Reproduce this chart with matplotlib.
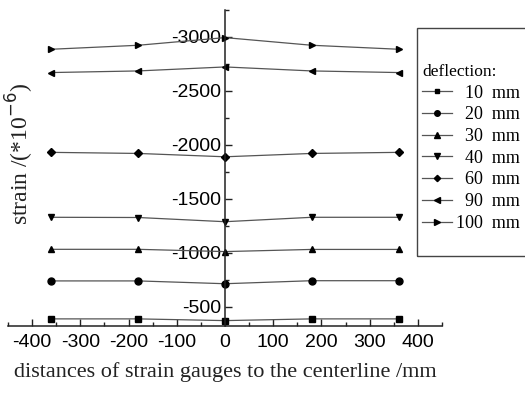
import matplotlib
matplotlib.use("Agg")
import matplotlib.pyplot as plt
from matplotlib.ticker import MultipleLocator, FixedLocator
from matplotlib.patches import Rectangle

positions = [-360, -180, 0, 180, 360]
labels = ["\u200710  mm", "\u200720  mm", "\u200730  mm", "\u200740  mm",
          "\u200760  mm", "\u200790  mm", "100  mm"]
markers = ["s", "o", "^", "v", "D", "<", ">"]
s10 = [-386, -386, -370, -386, -386]
s20 = [-738, -738, -712, -740, -740]
s30 = [-1031, -1031, -1010, -1030, -1030]
s40 = [-1328, -1326, -1287, -1328, -1328]
s60 = [-1930, -1920, -1889, -1920, -1930]
s90 = [-2670, -2685, -2722, -2685, -2670]
s100 = [-2886, -2923, -2994, -2923, -2886]
series = [s10, s20, s30, s40, s60, s90, s100]
yticks = [-500, -1000, -1500, -2000, -2500, -3000]
xticks = [-400, -300, -200, -100, 0, 100, 200, 300, 400]

W, H = 525, 393
fig = plt.figure(figsize=(5.25, 3.93), dpi=100)
ax = fig.add_axes([8/W, 1-326/H, 434/W, 316/H])

msizes = [4, 5, 5, 5, 4, 5, 5]
handles = []
for vals, m, lab, ms in zip(series, markers, labels, msizes):
    h, = ax.plot(positions, vals, color="#555555", lw=0.9, marker=m, ms=ms,
                 mfc="black", mec="black", label=lab)
    handles.append(h)

ax.set_xlim(-450, 450)
ax.set_ylim(-320, -3250)

ax.spines["top"].set_visible(False)
ax.spines["right"].set_visible(False)
ax.spines["left"].set_position(("data", 0))
for sp in ("left", "bottom"):
    ax.spines[sp].set_linewidth(1.1)
    ax.spines[sp].set_color("#222222")

ax.xaxis.set_major_locator(FixedLocator(xticks))
ax.xaxis.set_minor_locator(MultipleLocator(50))
ax.yaxis.set_major_locator(FixedLocator(yticks))
ax.yaxis.set_minor_locator(MultipleLocator(250))
ax.set_xticklabels([str(v) for v in xticks])
ax.set_yticklabels([str(v) for v in yticks])

ax.tick_params(axis="both", which="major", direction="in", length=5, width=1.0,
               color="#222222", labelsize=14, labelfontfamily="Liberation Sans")
ax.tick_params(axis="both", which="minor", direction="in", length=3, width=1.0,
               color="#222222")
ax.tick_params(axis="x", which="major", pad=6)
ax.tick_params(axis="y", which="major", pad=3)

fig.text(20/W, 1-154/H, "strain /(*10$^{-6}$)", rotation=90, ha="center",
         va="center", fontsize=17, family="Liberation Serif", color="#222222")
fig.text(225/W, 1-372/H, "distances of strain gauges to the centerline /mm",
         ha="center", va="center", fontsize=16, family="Liberation Serif",
         color="#222222")

# legend frame (extends past the right edge as in the reference)
fig.patches.append(Rectangle((417/W, 1-256/H), 120/W, 228/H,
                             transform=fig.transFigure, fill=False,
                             edgecolor="#444444", lw=1.0))

leg = fig.legend(handles=handles, loc="upper left",
                 bbox_to_anchor=(422/W, 1-64/H),
                 title="deflection:", frameon=False, markerscale=0.8,
                 prop={"family": ["Liberation Serif", "DejaVu Serif"], "size": 13},
                 title_fontproperties={"family": "Liberation Serif", "size": 12.5},
                 handlelength=1.65, handletextpad=0.25, labelspacing=0.26,
                 borderpad=0, borderaxespad=0)
leg._legend_box.align = "left"

fig.savefig("out.png", dpi=100)
